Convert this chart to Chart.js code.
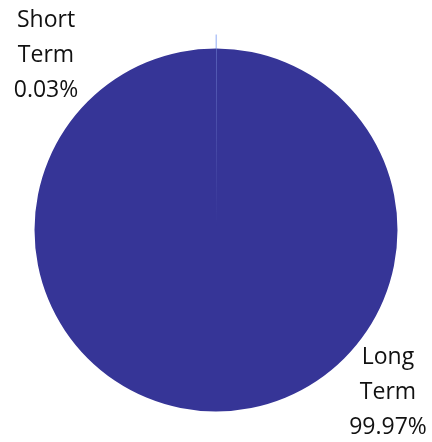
<!DOCTYPE html>
<html>
<head>
<meta charset="utf-8">
<script src="https://cdn.jsdelivr.net/npm/chart.js@4.4.0/dist/chart.umd.min.js"></script>
<style>
  html, body { margin: 0; padding: 0; background: #fff; }
  #wrap { width: 432px; height: 442px; }
</style>
</head>
<body>
<div id="wrap"><canvas id="pie"></canvas></div>
<script>
var labels = ['Short Term', 'Long Term'];
var values = [0.03, 99.97];
var colors = ['rgb(143, 170, 245)', 'rgb(54, 53, 151)'];

// label text placed outside the pie, Excel style
var labelPlugin = {
  id: 'outLabels',
  afterDatasetsDraw: function(chart) {
    var ctx = chart.ctx;
    var arcs = chart.getDatasetMeta(0).data;
    var a0 = arcs[0];
    var cx = a0.x, cy = a0.y, r = a0.outerRadius;

    // leader line for the thin slice
    var mid = (a0.startAngle + a0.endAngle) / 2;
    ctx.save();
    ctx.strokeStyle = colors[0];
    ctx.lineWidth = 1;
    ctx.beginPath();
    ctx.moveTo(cx + Math.cos(mid) * r, cy + Math.sin(mid) * r);
    ctx.lineTo(cx + Math.cos(mid) * (r + 14), cy + Math.sin(mid) * (r + 14));
    ctx.stroke();

    ctx.fillStyle = '#111';
    ctx.font = '23px "Open Sans", sans-serif';
    ctx.textAlign = 'center';
    ctx.textBaseline = 'middle';
    var pos = [[cx - 170, cy - 210], [cx + 172, cy + 127]];
    for (var i = 0; i < labels.length; i++) {
      var words = labels[i].split(' ');
      var lines = [words[0], words[1], values[i].toFixed(2) + '%'];
      for (var j = 0; j < lines.length; j++) {
        ctx.fillText(lines[j], pos[i][0], pos[i][1] + j * 35);
      }
    }
    ctx.restore();
  }
};

var config = {
  type: 'pie',
  data: {
    labels: labels,
    datasets: [{
      data: values,
      backgroundColor: colors,
      borderColor: [colors[0], colors[1]],
      borderWidth: [1, 0]
    }]
  },
  options: {
    responsive: true,
    maintainAspectRatio: false,
    animation: false,
    layout: { padding: { top: 48, bottom: 30, left: 34, right: 34 } },
    plugins: {
      legend: { display: false },
      tooltip: { enabled: false }
    }
  },
  plugins: [labelPlugin]
};

window.onload = function() {
  var ctx = document.getElementById('pie').getContext('2d');
  window.myPie = new Chart(ctx, config);
};
</script>
</body>
</html>
